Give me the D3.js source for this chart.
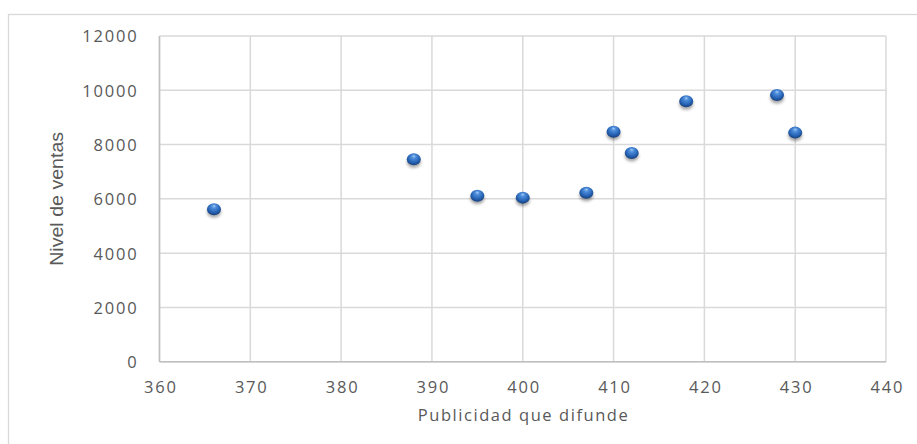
<!DOCTYPE html>
<html>
<head>
<meta charset="utf-8">
<script src="https://cdn.jsdelivr.net/npm/d3@7"></script>
<style>
  html, body { margin: 0; padding: 0; background: #fff; }
  svg { display: block; }
</style>
</head>
<body>
<svg id="chart" width="917" height="444"></svg>
<script>
const publicidad = [366, 388, 395, 400, 407, 410, 412, 418, 428, 430];
const ventas = [5620, 7455, 6115, 6045, 6225, 8475, 7690, 9595, 9825, 8440];
const xTicks = [360, 370, 380, 390, 400, 410, 420, 430, 440];
const yTicks = [0, 2000, 4000, 6000, 8000, 10000, 12000];
const xTitle = "Publicidad que difunde";
const yTitle = "Nivel de ventas";

const svg = d3.select("#chart");
const W = 917, H = 444;
const plot = { left: 159.5, right: 886, top: 36, bottom: 361.7 };

// outer chart border
svg.append("rect")
  .attr("x", 8.5).attr("y", 14.5)
  .attr("width", W + 20).attr("height", H + 20)
  .attr("fill", "#fff").attr("stroke", "#d9d9d9").attr("stroke-width", 1.3);

const x = d3.scaleLinear().domain([360, 440]).range([plot.left, plot.right]);
const y = d3.scaleLinear().domain([0, 12000]).range([plot.bottom, plot.top]);

// defs for marker gradient & shadow
const defs = svg.append("defs");
const grad = defs.append("radialGradient").attr("id", "ball")
  .attr("cx", "50%").attr("cy", "40%").attr("r", "60%")
  .attr("fx", "50%").attr("fy", "22%");
grad.append("stop").attr("offset", "0%").attr("stop-color", "#a9cdf5");
grad.append("stop").attr("offset", "25%").attr("stop-color", "#4f8fdc");
grad.append("stop").attr("offset", "70%").attr("stop-color", "#2662b4");
grad.append("stop").attr("offset", "100%").attr("stop-color", "#173f7a");
const blur = defs.append("filter").attr("id", "shadow")
  .attr("x", "-50%").attr("y", "-50%").attr("width", "200%").attr("height", "200%");
blur.append("feGaussianBlur").attr("stdDeviation", 1.4);

// gridlines
svg.append("g").selectAll("line.v").data(xTicks).join("line")
  .attr("x1", d => x(d)).attr("x2", d => x(d))
  .attr("y1", plot.top).attr("y2", plot.bottom)
  .attr("stroke", "#d9d9d9").attr("stroke-width", 1.5);
svg.append("g").selectAll("line.h").data(yTicks).join("line")
  .attr("x1", plot.left).attr("x2", plot.right)
  .attr("y1", d => y(d)).attr("y2", d => y(d))
  .attr("stroke", "#d9d9d9").attr("stroke-width", 1.5);

// axis lines
svg.append("line").attr("x1", plot.left).attr("x2", plot.left)
  .attr("y1", plot.top).attr("y2", plot.bottom)
  .attr("stroke", "#bfbfbf").attr("stroke-width", 1.5);
svg.append("line").attr("x1", plot.left).attr("x2", plot.right)
  .attr("y1", plot.bottom).attr("y2", plot.bottom)
  .attr("stroke", "#bfbfbf").attr("stroke-width", 1.5);

// tick labels via d3 axes (no domain / tick lines)
const fontFam = "'Open Sans', 'DejaVu Sans', sans-serif";
const xAxis = svg.append("g").attr("transform", `translate(0,${plot.bottom})`)
  .call(d3.axisBottom(x).tickValues(xTicks).tickSize(0).tickPadding(17).tickFormat(d3.format("d")));
const yAxis = svg.append("g").attr("transform", `translate(${plot.left},0)`)
  .call(d3.axisLeft(y).tickValues(yTicks).tickSize(0).tickPadding(21).tickFormat(d3.format("d")));
[xAxis, yAxis].forEach(a => {
  a.select(".domain").remove();
  a.selectAll("text").attr("fill", "#595959")
    .style("font-family", fontFam).style("font-size", "16.5px").style("letter-spacing", "1.8px");
});
xAxis.selectAll("text").attr("y", 31).attr("dy", 0).attr("dx", "0.9px");
yAxis.selectAll("text").attr("dy", "0.36em");

// titles
svg.append("text").attr("x", (plot.left + plot.right) / 2).attr("y", 421)
  .attr("text-anchor", "middle").attr("fill", "#595959")
  .style("font-family", fontFam).style("font-size", "16.5px")
  .attr("textLength", 210).attr("lengthAdjust", "spacing")
  .text(xTitle);
svg.append("text")
  .attr("transform", `translate(63,${(plot.top + plot.bottom) / 2}) rotate(-90)`)
  .attr("text-anchor", "middle").attr("fill", "#595959")
  .style("font-family", "'Liberation Sans Narrow', sans-serif")
  .style("font-size", "19px")
  .attr("textLength", 134).attr("lengthAdjust", "spacingAndGlyphs")
  .text(yTitle);

// points
const pts = publicidad.map((p, i) => ({ p, v: ventas[i] }));
const g = svg.append("g");
g.selectAll("ellipse.sh").data(pts).join("ellipse")
  .attr("cx", d => x(d.p)).attr("cy", d => y(d.v) + 3)
  .attr("rx", 7).attr("ry", 5.5)
  .attr("fill", "rgba(0,0,0,0.35)").attr("filter", "url(#shadow)");
g.selectAll("ellipse.pt").data(pts).join("ellipse")
  .attr("cx", d => x(d.p)).attr("cy", d => y(d.v))
  .attr("rx", 7).attr("ry", 6)
  .attr("fill", "url(#ball)");
</script>
</body>
</html>
